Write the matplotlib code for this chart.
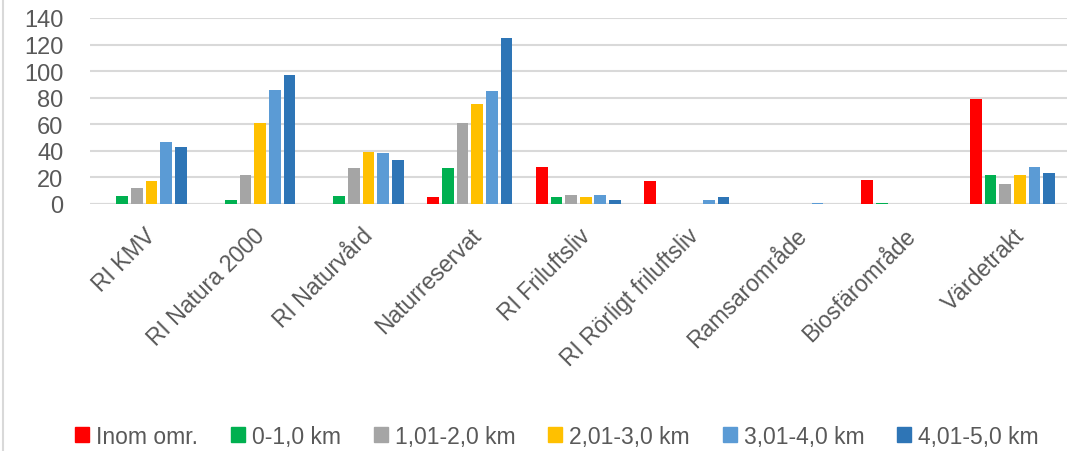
import matplotlib
matplotlib.use("Agg")
import matplotlib.pyplot as plt
from matplotlib.lines import Line2D
import numpy as np

plt.rcParams['font.family'] = ['Liberation Sans', 'DejaVu Sans']

categories = ["RI KMV", "RI Natura 2000", "RI Naturvård", "Naturreservat",
              "RI Friluftsliv", "RI Rörligt friluftsliv", "Ramsarområde",
              "Biosfärområde", "Värdetrakt"]
series_names = ["Inom omr.", "0-1,0 km", "1,01-2,0 km", "2,01-3,0 km",
                "3,01-4,0 km", "4,01-5,0 km"]
inom = [0, 0, 0, 5, 28, 17, 0, 18, 79]
km_0_1 = [6, 3, 6, 27, 5, 0, 0, 1, 22]
km_1_2 = [12, 22, 27, 61, 7, 0, 0, 0, 15]
km_2_3 = [17, 61, 39, 75, 5, 0, 0, 0, 22]
km_3_4 = [47, 86, 38, 85, 7, 3, 1, 0, 28]
km_4_5 = [43, 97, 33, 125, 3, 5, 0, 0, 23]
colors = ["#FF0000", "#00B050", "#A5A5A5", "#FFC000", "#5B9BD5", "#2E75B6"]

all_series = [inom, km_0_1, km_1_2, km_2_3, km_3_4, km_4_5]

fig = plt.figure(figsize=(10.71, 4.52), dpi=100)
ax = fig.add_axes([0.084, 0.5465, 0.912, 0.4115])

x = np.arange(len(categories))
slot = 0.135
for i, (vals, name, c) in enumerate(zip(all_series, series_names, colors)):
    ax.bar(x + (i - 2.5) * slot, vals, width=slot * 0.8, color=c,
           label=name, zorder=3)

ax.set_xlim(-0.5, len(categories) - 0.5)
ax.set_ylim(0, 140)
ax.set_yticks(range(0, 141, 20))
ax.yaxis.grid(True, color="#D9D9D9", linewidth=1.5, zorder=0)
ax.set_axisbelow(True)
for s in ax.spines.values():
    s.set_visible(False)
ax.tick_params(axis="both", length=0, colors="#595959")
ax.tick_params(axis="y", pad=19, labelsize=17)
ax.tick_params(axis="x", pad=14, labelsize=16.5)
ax.set_xticks(x)
ax.set_xticklabels(categories, rotation=45, ha="right", rotation_mode="anchor")
ax.axhline(0, color="#D9D9D9", linewidth=1.5, zorder=2)

handles = [plt.Rectangle((0, 0), 1, 1, color=c) for c in colors]
fig.legend(handles, series_names, loc="center", bbox_to_anchor=(0.52, 0.033),
           ncol=6, frameon=False, fontsize=16.5, handlelength=0.6, handleheight=0.6,
           handletextpad=0.3, columnspacing=1.45, labelcolor="#595959")

fig.add_artist(Line2D([0.003, 0.003], [0, 1], transform=fig.transFigure,
                      color="#D9D9D9", linewidth=1.5))

fig.savefig("out.png", dpi=100)
